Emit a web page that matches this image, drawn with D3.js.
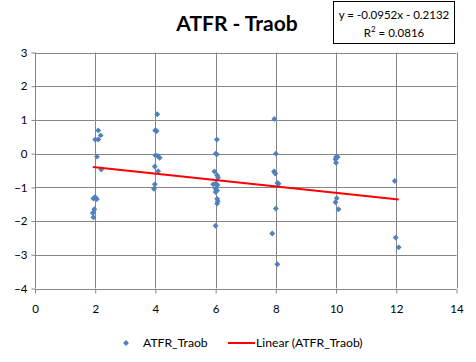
<!DOCTYPE html>
<html><head><meta charset="utf-8">
<script src="https://cdn.jsdelivr.net/npm/d3@7"></script>
<style>body{margin:0;background:#fff;} svg{display:block;font-family:Lato,"Open Sans",sans-serif;}</style>
</head><body>
<svg id="c" width="476" height="362"></svg>
<script>
const title = "ATFR - Traob";
const seriesName = "ATFR_Traob";
const trendName = "Linear (ATFR_Traob)";
const slope = -0.0952, intercept = -0.2132, r2 = 0.0816;
const xTicks = [0,2,4,6,8,10,12,14];
const yTicks = [3,2,1,0,-1,-2,-3,-4];
const xs = [2.1,2.18,2.0,2.1,2.06,2.2,1.94,2.02,2.05,1.98,1.97,1.92,1.94,
  4.06,3.99,4.04,4.0,4.08,4.14,3.98,4.09,3.98,3.95,
  6.04,6.0,6.04,5.96,6.05,6.08,5.92,6.0,6.06,6.0,6.05,6.0,6.05,6.07,6.05,6.0,
  7.95,8.0,7.94,7.98,8.05,8.09,8.0,7.88,8.05,
  10.0,10.05,9.98,10.0,10.02,9.98,10.08,
  11.95,11.98,12.08];
const ys = [0.69,0.54,0.42,0.42,-0.09,-0.47,-1.33,-1.31,-1.35,-1.3,-1.65,-1.76,-1.89,
  1.17,0.69,0.67,-0.05,-0.07,-0.12,-0.38,-0.52,-0.91,-1.04,
  0.42,0.0,-0.02,-0.53,-0.64,-0.71,-0.91,-0.89,-0.93,-1.04,-1.09,-1.14,-1.34,-1.41,-1.48,-2.14,
  1.03,0.0,-0.53,-0.59,-0.87,-0.89,-1.63,-2.37,-3.28,
  -0.1,-0.1,-0.17,-0.27,-1.32,-1.44,-1.65,
  -0.81,-2.49,-2.78];

const svg = d3.select("#c");
const L=35, R=456.5, T=52.5, B=288.5;
const x = d3.scaleLinear().domain([0,14]).range([L,R]);
const y = d3.scaleLinear().domain([-4,3]).range([B,T]);
const grid="#868686";

svg.append("g").selectAll("line").data(yTicks).join("line")
  .attr("x1",L).attr("x2",R).attr("y1",d=>Math.round(y(d))+0.5).attr("y2",d=>Math.round(y(d))+0.5)
  .attr("stroke",grid).attr("stroke-width",1);
svg.append("g").selectAll("line").data(xTicks).join("line")
  .attr("y1",T).attr("y2",B).attr("x1",d=>Math.round(x(d))+0.5).attr("x2",d=>Math.round(x(d))+0.5)
  .attr("stroke",grid).attr("stroke-width",1);

const ya = d3.axisLeft(y).tickValues(yTicks).tickSize(4).tickFormat(d3.format("d"));
const gy = svg.append("g").attr("transform",`translate(${Math.round(L)+0.5},0)`).call(ya);
gy.selectAll("path,line").attr("stroke",grid);
gy.selectAll("text").attr("font-size",11.5).attr("fill","#000").attr("x",-8).attr("font-family","Lato,'Open Sans',sans-serif");
const xa = d3.axisBottom(x).tickValues(xTicks).tickSize(4).tickFormat(d3.format("d"));
const gx = svg.append("g").attr("transform",`translate(0,${Math.round(B)+0.5})`).call(xa);
gx.selectAll("path,line").attr("stroke",grid);
gx.selectAll("text").attr("font-size",11.5).attr("fill","#000").attr("y",15).attr("font-family","Lato,'Open Sans',sans-serif");
gx.select(".domain").remove(); gy.select(".domain").remove();

const pts = xs.map((v,i)=>[v,ys[i]]);
svg.append("g").selectAll("path").data(pts).join("path")
  .attr("d",d3.symbol(d3.symbolDiamond2,22)())
  .attr("transform",d=>`translate(${x(d[0])},${y(d[1])})`)
  .attr("fill","#4F81BD");

const x0=d3.min(xs), x1=d3.max(xs);
svg.append("line").attr("x1",x(x0)).attr("x2",x(x1))
  .attr("y1",y(slope*x0+intercept)).attr("y2",y(slope*x1+intercept))
  .attr("stroke","#FF0000").attr("stroke-width",2);

svg.append("text").attr("x",237).attr("y",31).attr("text-anchor","middle")
  .attr("font-size",21).attr("font-weight","bold").text(title);

svg.append("rect").attr("x",333.5).attr("y",1.5).attr("width",121).attr("height",42)
  .attr("fill","#fff").attr("stroke","#000").attr("stroke-width",1);
svg.append("text").attr("x",394).attr("y",19).attr("text-anchor","middle").attr("font-size",11.5)
  .text(`y = ${slope.toFixed(4)}x - ${Math.abs(intercept).toFixed(4)}`);
const t2 = svg.append("text").attr("x",394).attr("y",37).attr("text-anchor","middle").attr("font-size",11.5);
t2.append("tspan").text("R");
t2.append("tspan").attr("font-size",8).attr("dy",-5).text("2");
t2.append("tspan").attr("dy",5).text(` = ${r2.toFixed(4)}`);

svg.append("path").attr("d",d3.symbol(d3.symbolDiamond2,22)()).attr("transform","translate(126,343)").attr("fill","#4F81BD");
svg.append("text").attr("x",143).attr("y",347).attr("font-size",12.2).text(seriesName);
svg.append("line").attr("x1",228).attr("x2",255).attr("y1",343).attr("y2",343).attr("stroke","#FF0000").attr("stroke-width",2);
svg.append("text").attr("x",256).attr("y",347).attr("font-size",12.2).text(trendName);
</script>
</body></html>
